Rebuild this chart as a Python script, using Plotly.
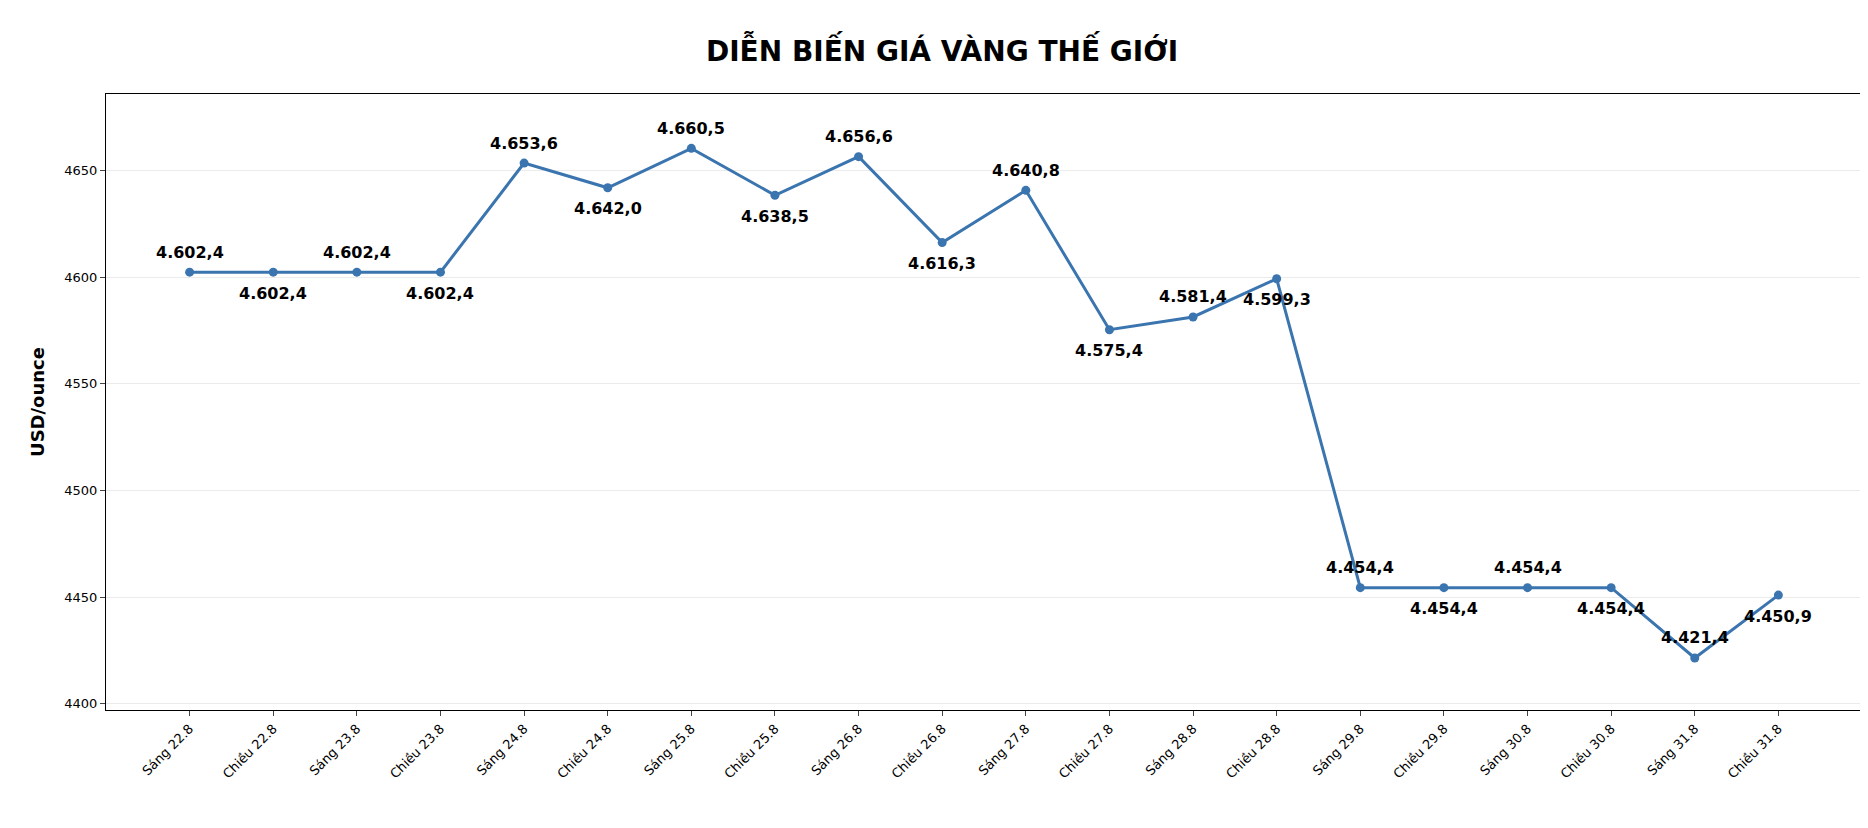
import plotly.graph_objects as go

categories = ["Sáng 22.8", "Chiều 22.8", "Sáng 23.8", "Chiều 23.8", "Sáng 24.8", "Chiều 24.8",
              "Sáng 25.8", "Chiều 25.8", "Sáng 26.8", "Chiều 26.8", "Sáng 27.8", "Chiều 27.8",
              "Sáng 28.8", "Chiều 28.8", "Sáng 29.8", "Chiều 29.8", "Sáng 30.8", "Chiều 30.8",
              "Sáng 31.8", "Chiều 31.8"]
prices = [4602.4, 4602.4, 4602.4, 4602.4, 4653.6, 4642.0, 4660.5, 4638.5, 4656.6, 4616.3,
          4640.8, 4575.4, 4581.4, 4599.3, 4454.4, 4454.4, 4454.4, 4454.4, 4421.4, 4450.9]

labels = ["{:,.1f}".format(v).replace(",", "X").replace(".", ",").replace("X", ".") for v in prices]

fig = go.Figure(go.Scatter(
    x=categories, y=prices, mode="lines+markers",
    line=dict(color="#3b75af", width=3), marker=dict(size=9, color="#3b75af"),
))

# nhãn giá: xen kẽ trên / dưới
for i, (c, v, t) in enumerate(zip(categories, prices, labels)):
    fig.add_annotation(x=c, y=v, text="<b>%s</b>" % t, showarrow=False,
                       yshift=20 if i % 2 == 0 else -21,
                       font=dict(family="DejaVu Sans", size=16, color="black"))

fig.update_layout(
    title=dict(text="<b>DIỄN BIẾN GIÁ VÀNG THẾ GIỚI</b>", x=0.5, y=0.96, xanchor="center",
               font=dict(family="DejaVu Sans", size=28, color="black")),
    width=1868, height=828, plot_bgcolor="white", paper_bgcolor="white",
    margin=dict(l=98, r=14, t=86, b=126),
    font=dict(family="DejaVu Sans", size=13, color="black"),
    showlegend=False,
)
fig.update_xaxes(tickangle=-45, showline=True, linecolor="black", mirror=True, showgrid=False,
                 ticks="outside", range=[-1, 20])
fig.update_yaxes(title=dict(text="<b>USD/ounce</b>", font=dict(size=18)), range=[4397, 4686],
                 tickvals=[4400, 4450, 4500, 4550, 4600, 4650], showline=True, linecolor="black",
                 mirror=True, gridcolor="#ebebeb", ticks="outside", zeroline=False)

fig.write_html("out.html")
